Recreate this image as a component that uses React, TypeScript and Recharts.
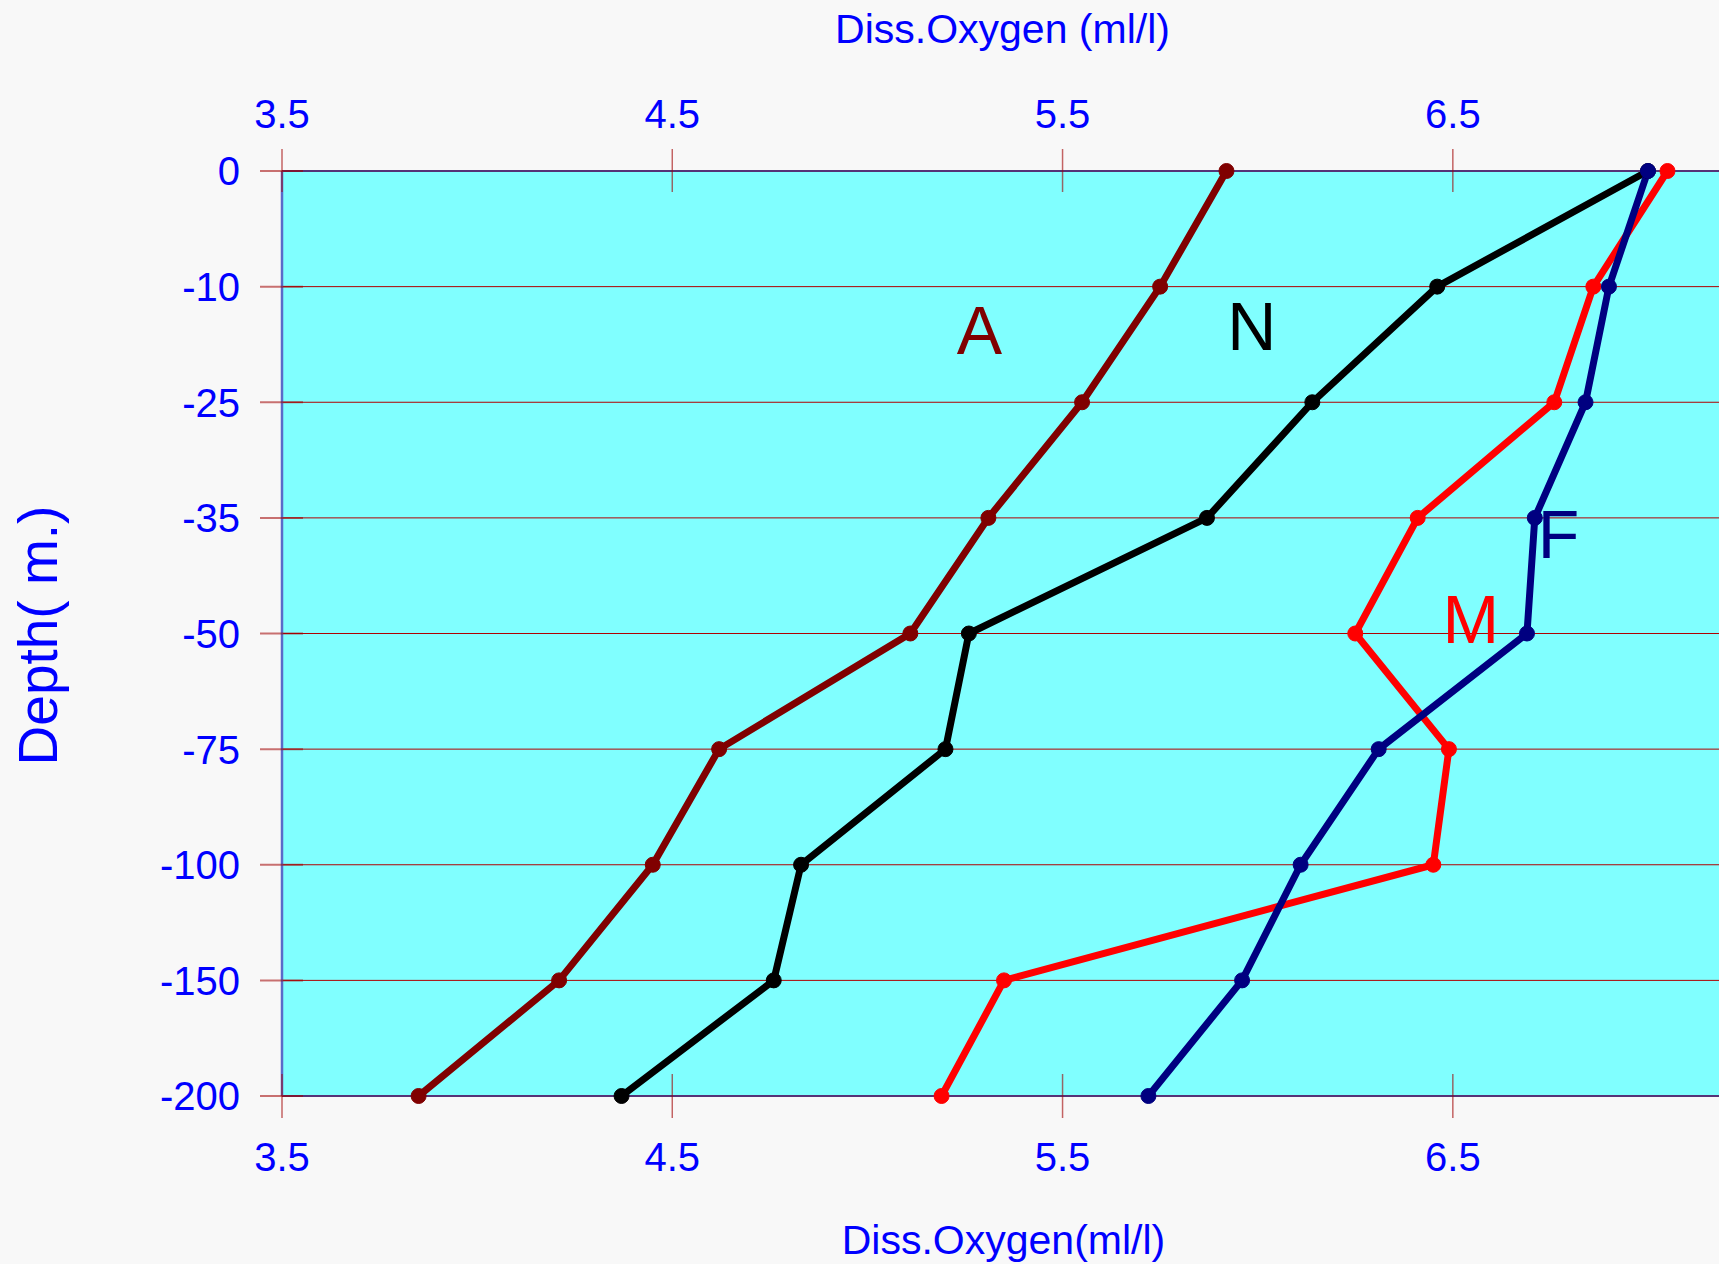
import React from 'react';
import { LineChart, Line, XAxis, YAxis, CartesianGrid, ReferenceDot } from 'recharts';

const depths = ['0', '-10', '-25', '-35', '-50', '-75', '-100', '-150', '-200'];
const seriesA = [5.92, 5.75, 5.55, 5.31, 5.11, 4.62, 4.45, 4.21, 3.85];
const seriesN = [7.0, 6.46, 6.14, 5.87, 5.26, 5.2, 4.83, 4.76, 4.37];
const seriesM = [7.05, 6.86, 6.76, 6.41, 6.25, 6.49, 6.45, 5.35, 5.19];
const seriesF = [7.0, 6.9, 6.84, 6.71, 6.69, 6.31, 6.11, 5.96, 5.72];
const xTicks = [3.5, 4.5, 5.5, 6.5];
const xDomain = [3.5, 7.182];

const seriesLabels = [
  { key: 'A', text: 'A', x: 5.287, depth: '-10', dy: 67, color: '#800000' },
  { key: 'N', text: 'N', x: 5.985, depth: '-10', dy: 63, color: '#000000' },
  { key: 'M', text: 'M', x: 6.546, depth: '-50', dy: 9, color: '#ff0000' },
  { key: 'F', text: 'F', x: 6.771, depth: '-35', dy: 40, color: '#000080' },
];

const rows = depths.map((d, i) => ({
  depth: d,
  A: seriesA[i],
  N: seriesN[i],
  M: seriesM[i],
  F: seriesF[i],
}));

const FONT = '"Liberation Sans", Arial, Helvetica, sans-serif';
const BLUE = '#0000ff';
const TICK_STROKE = '#a00000';

const YTick = (props: any) => {
  const { x, y, payload } = props;
  return (
    <g>
      <line x1={x - 22} y1={y} x2={x + 21} y2={y} stroke={TICK_STROKE} strokeOpacity={0.55} strokeWidth={2} />
      <text x={x - 42} y={y} dy="0.36em" textAnchor="end" fill={BLUE} fontSize={40} fontFamily={FONT}>
        {payload.value}
      </text>
    </g>
  );
};

const TopTick = (props: any) => {
  const { x, y, payload } = props;
  return (
    <g>
      <line x1={x} y1={y - 22} x2={x} y2={y + 21} stroke={TICK_STROKE} strokeOpacity={0.6} strokeWidth={1.5} />
      <text x={x} y={y - 43} textAnchor="middle" fill={BLUE} fontSize={40} fontFamily={FONT}>
        {payload.value}
      </text>
    </g>
  );
};

const BottomTick = (props: any) => {
  const { x, y, payload } = props;
  return (
    <g>
      <line x1={x} y1={y - 22} x2={x} y2={y + 22} stroke={TICK_STROKE} strokeOpacity={0.6} strokeWidth={1.5} />
      <text x={x} y={y + 75} textAnchor="middle" fill={BLUE} fontSize={40} fontFamily={FONT}>
        {payload.value}
      </text>
    </g>
  );
};

const TopTitle = (props: any) => {
  const vb = props.viewBox || {};
  return (
    <text x={vb.x + vb.width / 2 + 2} y={vb.y + 43} textAnchor="middle" fill={BLUE} fontSize={41} fontFamily={FONT}>
      Diss.Oxygen (ml/l)
    </text>
  );
};

const BottomTitle = (props: any) => {
  const vb = props.viewBox || {};
  return (
    <text x={vb.x + vb.width / 2 + 3} y={vb.y + 158} textAnchor="middle" fill={BLUE} fontSize={41} fontFamily={FONT}>
      Diss.Oxygen(ml/l)
    </text>
  );
};

const LeftTitle = (props: any) => {
  const vb = props.viewBox || {};
  const cx = vb.x + 57;
  const cy = vb.y + vb.height / 2 + 2;
  return (
    <text
      x={cx}
      y={cy}
      transform={`rotate(-90 ${cx} ${cy})`}
      textAnchor="middle"
      fill={BLUE}
      fontSize={55}
      fontFamily={FONT}
    >
      Depth( m.)
    </text>
  );
};

const makeSeriesLabel = (text: string, color: string, dy: number) => (props: any) => {
  const vb = props.viewBox || {};
  const cx = vb.x + (vb.width || 0) / 2;
  const cy = vb.y + (vb.height || 0) / 2;
  return (
    <text x={cx} y={cy + dy} textAnchor="middle" fill={color} fontSize={68} fontFamily={FONT}>
      {text}
    </text>
  );
};

const lineDefs = [
  { key: 'A', color: '#800000' },
  { key: 'N', color: '#000000' },
  { key: 'M', color: '#ff0000' },
  { key: 'F', color: '#000080' },
];

export default function App() {
  return (
    <div style={{ position: 'absolute', left: 0, top: 0, width: 1719, height: 1264, background: '#f8f8f8', overflow: 'hidden' }}>
      <LineChart
        layout="vertical"
        width={1719}
        height={1264}
        data={rows}
        margin={{ top: 0, right: 0, bottom: 0, left: 0 }}
      >
        <CartesianGrid
          fill="#80ffff"
          vertical={false}
          horizontal={true}
          stroke="#b00000"
          strokeWidth={1}
          xAxisId="bottom"
        />
        <XAxis
          xAxisId="top"
          orientation="top"
          type="number"
          domain={xDomain}
          ticks={xTicks}
          allowDataOverflow
          interval={0}
          height={171}
          tickSize={0}
          tickMargin={0}
          tickLine={false}
          tick={<TopTick />}
          axisLine={{ stroke: '#553377', strokeWidth: 2 }}
          label={{ content: <TopTitle /> }}
        />
        <XAxis
          xAxisId="bottom"
          orientation="bottom"
          type="number"
          domain={xDomain}
          ticks={xTicks}
          allowDataOverflow
          interval={0}
          height={168}
          tickSize={0}
          tickMargin={0}
          tickLine={false}
          tick={<BottomTick />}
          axisLine={{ stroke: '#553377', strokeWidth: 2 }}
          label={{ content: <BottomTitle /> }}
        />
        <YAxis
          type="category"
          dataKey="depth"
          scale="point"
          width={282}
          interval={0}
          tickSize={0}
          tickMargin={0}
          tickLine={false}
          tick={<YTick />}
          axisLine={{ stroke: '#5a6ac8', strokeWidth: 2.5 }}
          label={{ content: <LeftTitle /> }}
        />
        {lineDefs.map((s) => (
          <Line
            key={s.key}
            xAxisId="bottom"
            dataKey={s.key}
            type="linear"
            stroke={s.color}
            strokeWidth={7}
            strokeLinejoin="round"
            dot={{ r: 7.5, fill: s.color, stroke: s.color, strokeWidth: 1 }}
            activeDot={false}
            isAnimationActive={false}
          />
        ))}
        {seriesLabels.map((l) => (
          <ReferenceDot
            key={l.key}
            xAxisId="bottom"
            x={l.x}
            y={l.depth}
            r={0}
            fill="none"
            stroke="none"
            label={{ content: makeSeriesLabel(l.text, l.color, l.dy) }}
          />
        ))}
      </LineChart>
    </div>
  );
}
